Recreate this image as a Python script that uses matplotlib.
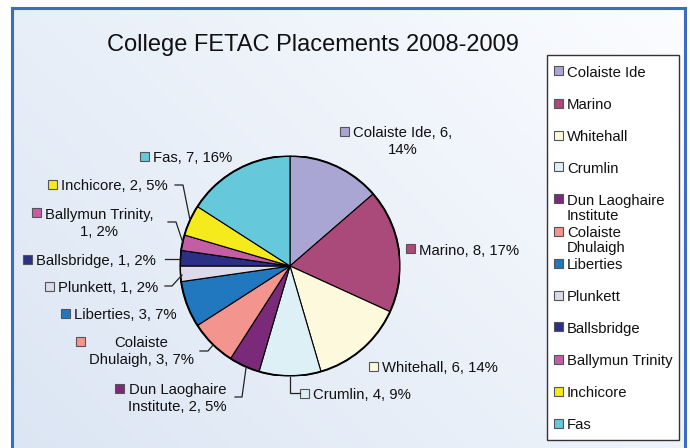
import textwrap
import numpy as np
import matplotlib
matplotlib.use("Agg")
import matplotlib.pyplot as plt
from matplotlib.patches import Rectangle, Circle
from matplotlib.lines import Line2D

plt.rcParams['font.family'] = ['Liberation Sans', 'DejaVu Sans']

# ---------------- data ----------------
colleges = ["Colaiste Ide", "Marino", "Whitehall", "Crumlin",
            "Dun Laoghaire Institute", "Colaiste Dhulaigh", "Liberties",
            "Plunkett", "Ballsbridge", "Ballymun Trinity", "Inchicore", "Fas"]
placements = [6, 8, 6, 4, 2, 3, 3, 1, 1, 1, 2, 7]
percent_labels = [14, 17, 14, 9, 5, 7, 7, 2, 2, 2, 5, 16]
title = "College FETAC Placements 2008-2009"

# ---------------- style / layout ----------------
colors = ["#aaa6d3", "#aa4a7a", "#fdf9dc", "#dcf0f6", "#7a2a78", "#f4948f",
          "#2178be", "#dcdaeb", "#2b2f85", "#c35ea5", "#f5ea1c", "#66c9db"]

W, H = 690, 448
fig = plt.figure(figsize=(W / 100, H / 100), dpi=100)


def fx(x):
    return x / W


def fy(y):
    return 1 - y / H


# background frame with gradient
bg = fig.add_axes([fx(12), 0, fx(685) - fx(12), fy(8)])
gx, gy = np.meshgrid(np.linspace(0, 1, 200), np.linspace(0, 1, 200))
t = np.clip((gx * 0.6 + (1 - gy) * 0.4), 0, 1)  # 0 bottom-left -> 1 top-right
c0 = np.array([0.86, 0.90, 0.955])
c1 = np.array([0.985, 0.99, 1.0])
img = c0[None, None, :] * (1 - t[..., None]) + c1[None, None, :] * t[..., None]
bg.imshow(img, origin='upper', aspect='auto', extent=[0, 1, 0, 1])
bg.set_xlim(0, 1)
bg.set_ylim(0, 1)
bg.set_xticks([])
bg.set_yticks([])
for s in ['left', 'top', 'right']:
    bg.spines[s].set_color('#3a6cbf')
    bg.spines[s].set_linewidth(2.2)
bg.spines['bottom'].set_visible(False)

# title
fig.text(fx(313), fy(45), title, ha='center', va='center', fontsize=17, color='#111111')

# pie
cx, cy, R = 290, 266, 110
pax = fig.add_axes([fx(cx - R), fy(cy + R), (2 * R) / W, (2 * R) / H])
wedges, _ = pax.pie(placements, colors=colors, startangle=90, counterclock=False,
                    radius=1.0, wedgeprops=dict(edgecolor='black', linewidth=0.8))
pax.add_patch(Circle((0, 0), 1.0, fill=False, edgecolor='black', linewidth=1.4, zorder=5))
pax.set_xlim(-1, 1)
pax.set_ylim(-1, 1)
pax.axis('off')

FS = 10.7
# data label layout: (text_left_px, first_line_center_px, wrap width)
label_layout = [
    (353, 131, 16), (419, 249, None), (382, 366, None), (313, 393, None),
    (128, 388, 16), (89, 341, 15), (74, 313, None), (58, 286, None),
    (36, 259, None), (45, 213, 17), (61, 184, None), (153, 156, None),
]
# leader lines (pixel coords), drawn only for some labels
leaders = {
    3: [(290, 377), (290, 393), (300, 393)],
    4: [(246, 368), (242, 397), (235, 397)],
    5: [(213, 345), (208, 351), (200, 351)],
    7: [(182, 275), (172, 286), (165, 286)],
    8: [(181, 259), (165, 259)],
    9: [(183, 243), (176, 222), (168, 222)],
    10: [(190, 220), (183, 185), (175, 185)],
}

for i, (name, v, p) in enumerate(zip(colleges, placements, percent_labels)):
    lx, ly, wrap = label_layout[i]
    txt = f"{name}, {v}, {p}%"
    if wrap:
        txt = "\n".join(textwrap.wrap(txt, width=wrap))
    fig.text(fx(lx), fy(ly - 4.9), txt, ha='left', va='top', multialignment='center',
             fontsize=FS, color='#111111', linespacing=1.22)
    fig.patches.append(Rectangle((fx(lx - 13), fy(ly + 4.5)), 9 / W, 9 / H,
                                 transform=fig.transFigure, facecolor=colors[i],
                                 edgecolor='#555555', linewidth=0.8))
    if i in leaders:
        pts = leaders[i]
        fig.lines.append(Line2D([fx(a) for a, b in pts], [fy(b) for a, b in pts],
                                transform=fig.transFigure, color='#222222', linewidth=0.9))

# legend (drawn manually to keep Excel's fixed spacing)
fig.patches.append(Rectangle((fx(547), fy(440)), (679 - 547) / W, (440 - 55) / H,
                             transform=fig.transFigure, facecolor='white',
                             edgecolor='#333333', linewidth=1.0))
legend_wrap = [None, None, None, None, 14, 14, None, None, None, None, None, None]
for i, name in enumerate(colleges):
    yc = 71 + i * 32
    fig.patches.append(Rectangle((fx(554), fy(yc + 4.5)), 9 / W, 9 / H,
                                 transform=fig.transFigure, facecolor=colors[i],
                                 edgecolor='#555555', linewidth=0.8))
    lab = name
    if legend_wrap[i]:
        lab = "\n".join(textwrap.wrap(name, width=legend_wrap[i]))
    fig.text(fx(567), fy(yc - 4.9), lab, ha='left', va='top', fontsize=FS,
             color='#111111', linespacing=1.12)

fig.savefig("out.png", dpi=100)
